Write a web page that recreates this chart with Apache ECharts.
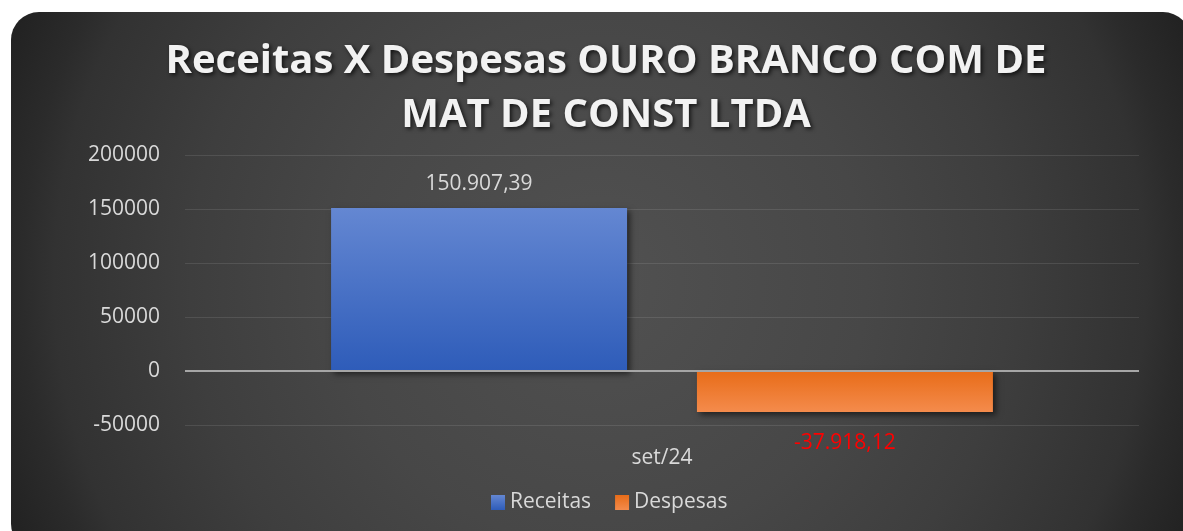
<!DOCTYPE html>
<html>
<head>
<meta charset="utf-8">
<script src="https://cdn.jsdelivr.net/npm/echarts@6/dist/echarts.min.js"></script>
<style>
html,body{margin:0;padding:0;background:#ffffff;overflow:hidden;}
#card{position:absolute;left:11px;top:12px;width:1180px;height:540px;border-radius:28px;
  background:radial-gradient(circle 650px at 589px 268px,#515151 0%,#474747 41%,#3e3e3e 63%,#323232 84%,#2b2b2b 89%,#202020 100%);}
#chart{position:absolute;left:0;top:0;width:1183px;height:531px;}
</style>
</head>
<body>
<div id="card"></div>
<div id="chart"></div>
<script>
const categories = ['set/24'];
const receitas = [150907.39];
const despesas = [-37918.12];
const seriesNames = ['Receitas', 'Despesas'];
const yMin = -50000, yMax = 200000, yInterval = 50000;

function fmtBR(v) {
  const neg = v < 0;
  const s = Math.abs(v).toFixed(2).split('.');
  const int = s[0].replace(/\B(?=(\d{3})+(?!\d))/g, '.');
  return (neg ? '-' : '') + int + ',' + s[1];
}

const chart = echarts.init(document.getElementById('chart'), null, {renderer: 'canvas'});
const shadow = {shadowColor: 'rgba(0,0,0,0.55)', shadowBlur: 6, shadowOffsetX: 3, shadowOffsetY: 3};
const font = 'Open Sans';

chart.setOption({
  backgroundColor: 'transparent',
  animation: false,
  title: {
    text: 'Receitas X Despesas OURO BRANCO COM DE\nMAT DE CONST LTDA',
    left: 601, top: 30, textAlign: 'center',
    textStyle: {
      fontFamily: font, fontWeight: 'bold', fontSize: 40, lineHeight: 54,
      color: '#f2f2f2',
      textShadowColor: 'rgba(0,0,0,0.7)', textShadowBlur: 4, textShadowOffsetX: 2, textShadowOffsetY: 2
    }
  },
  legend: {
    data: seriesNames,
    bottom: 13, left: 486,
    itemWidth: 14, itemHeight: 15, itemGap: 24,
    icon: 'rect',
    textStyle: {color: '#d9d9d9', fontSize: 21, fontFamily: font}
  },
  grid: {left: 185, right: 44, top: 155, bottom: 106},
  xAxis: {
    type: 'category', data: categories,
    axisLine: {show: false, onZero: false},
    axisTick: {show: false},
    axisLabel: {color: '#d9d9d9', fontSize: 21, fontFamily: font, margin: 23}
  },
  yAxis: {
    type: 'value', min: yMin, max: yMax, interval: yInterval,
    axisLine: {show: false}, axisTick: {show: false},
    axisLabel: {color: '#d9d9d9', fontSize: 21, fontFamily: font, margin: 25,
      formatter: v => String(v)},
    splitLine: {lineStyle: {color: 'rgba(255,255,255,0.1)', width: 1}}
  },
  series: [{
    name: seriesNames[0], type: 'bar', data: receitas,
    barWidth: 296, barGap: '23.6%',
    itemStyle: Object.assign({
      color: {type: 'linear', x: 0, y: 0, x2: 0, y2: 1,
        colorStops: [{offset: 0, color: '#6487d2'}, {offset: 1, color: '#2e5cb9'}]}
    }, shadow),
    label: {show: true, position: 'top', distance: 14, color: '#d9d9d9', fontSize: 21, fontFamily: font,
      formatter: p => fmtBR(p.value)},
    markLine: {
      silent: true, symbol: ['none', 'none'], label: {show: false},
      lineStyle: {color: '#a6a6a6', width: 2, type: 'solid'},
      data: [{yAxis: 0}]
    }
  }, {
    name: seriesNames[1], type: 'bar', data: despesas,
    barWidth: 296,
    itemStyle: Object.assign({
      color: {type: 'linear', x: 0, y: 0, x2: 0, y2: 1,
        colorStops: [{offset: 0, color: '#e86c18'}, {offset: 1, color: '#f48b4c'}]}
    }, shadow),
    label: {show: true, position: 'bottom', distance: 21, color: '#ff0000', fontSize: 21, fontFamily: font,
      formatter: p => fmtBR(p.value)}
  }]
});
</script>
</body>
</html>
